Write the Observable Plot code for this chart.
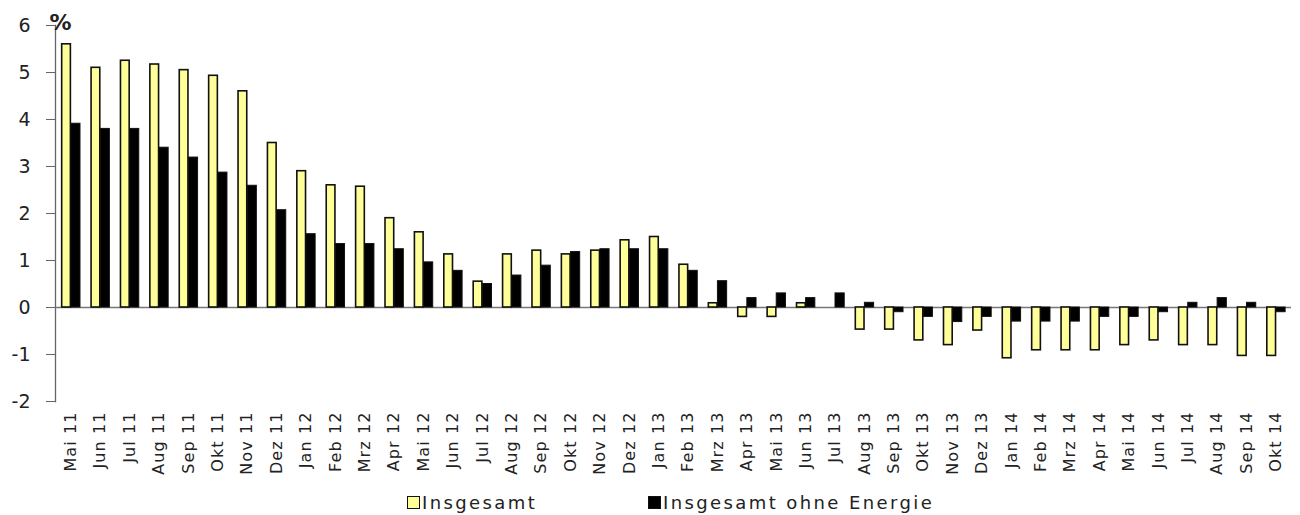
<!DOCTYPE html>
<html>
<head>
<meta charset="utf-8">
<script src="https://cdn.jsdelivr.net/npm/d3@7"></script>
<script src="https://cdn.jsdelivr.net/npm/@observablehq/plot@0.6"></script>
<style>
  html, body { margin: 0; padding: 0; background: #fff; }
  #chart { width: 1300px; }
  g[aria-label="x-axis tick label"] text { letter-spacing: 1.1px; }
  #legend { position: relative; width: 1300px; height: 30px; font-family: "DejaVu Sans", sans-serif; font-size: 18px; letter-spacing: 2.4px; color: #222; }
  .item { position: absolute; top: 7px; display: flex; align-items: center; height: 20px; }
  .sw { width: 11px; height: 11px; border: 1.6px solid #111; margin-right: 2px; }
</style>
</head>
<body>
<div id="chart"></div>
<div id="legend"></div>
<script>
const months = ["Mai 11","Jun 11","Jul 11","Aug 11","Sep 11","Okt 11","Nov 11","Dez 11",
  "Jan 12","Feb 12","Mrz 12","Apr 12","Mai 12","Jun 12","Jul 12","Aug 12","Sep 12","Okt 12","Nov 12","Dez 12",
  "Jan 13","Feb 13","Mrz 13","Apr 13","Mai 13","Jun 13","Jul 13","Aug 13","Sep 13","Okt 13","Nov 13","Dez 13",
  "Jan 14","Feb 14","Mrz 14","Apr 14","Mai 14","Jun 14","Jul 14","Aug 14","Sep 14","Okt 14"];

const insgesamt = [5.6,5.1,5.25,5.17,5.05,4.93,4.6,3.5,
  2.9,2.6,2.57,1.9,1.6,1.13,0.55,1.13,1.21,1.13,1.21,1.43,
  1.5,0.91,0.09,-0.2,-0.2,0.09,0,-0.47,-0.47,-0.7,-0.8,-0.49,
  -1.08,-0.91,-0.91,-0.91,-0.8,-0.7,-0.8,-0.8,-1.03,-1.03];

const ohneEnergie = [3.91,3.8,3.8,3.4,3.19,2.87,2.59,2.07,
  1.56,1.35,1.35,1.24,0.96,0.78,0.5,0.68,0.89,1.18,1.24,1.24,
  1.24,0.78,0.56,0.2,0.3,0.2,0.3,0.1,-0.1,-0.2,-0.31,-0.2,
  -0.3,-0.3,-0.3,-0.2,-0.2,-0.1,0.1,0.2,0.1,-0.1];

const seriesNames = ["Insgesamt", "Insgesamt ohne Energie"];
const seriesColors = ["#FFFF99", "#000000"];
const yTicks = [-2,-1,0,1,2,3,4,5,6];

const dataA = months.map((m, i) => ({month: m, value: insgesamt[i]})).filter(d => d.value !== 0);
const dataB = months.map((m, i) => ({month: m, value: ohneEnergie[i]})).filter(d => d.value !== 0);

const chart = Plot.plot({
  width: 1300,
  height: 485,
  marginLeft: 55,
  marginRight: 9,
  marginTop: 25,
  marginBottom: 84,
  style: {fontFamily: "DejaVu Sans, sans-serif", color: "#222", background: "#fff"},
  x: {domain: months, paddingInner: 0.35, paddingOuter: 0.2, round: false, label: null},
  y: {domain: [-2, 6], label: null},
  marks: [
    Plot.ruleY([0], {stroke: "#777", strokeWidth: 1.3}),
    Plot.barY(dataA, {x: "month", y: "value", fill: seriesColors[0], stroke: "#111", strokeWidth: 1.6, insetRight: 9.6, insetLeft: 0.8}),
    Plot.barY(dataB, {x: "month", y: "value", fill: seriesColors[1], stroke: "#111", strokeWidth: 1, insetLeft: 9.9}),
    Plot.frame({anchor: "left", stroke: "#666", strokeWidth: 1.3}),
    Plot.axisY({ticks: yTicks, tickSize: 9, tickPadding: 16, fontSize: 19, tickFormat: d => String(d), stroke: "#666", fill: "#222"}),
    Plot.axisX({tickSize: 0, tickPadding: 10, tickRotate: -90, fontSize: 16, fill: "#222"}),
    Plot.text(["%"], {frameAnchor: "top-left", dx: -6, dy: 4, textAnchor: "start", lineAnchor: "bottom", fontSize: 22, fontWeight: "bold", fill: "#222"})
  ]
});
document.getElementById("chart").appendChild(chart);

const legend = document.getElementById("legend");
const lefts = [407, 648];
seriesNames.forEach((name, i) => {
  const item = document.createElement("div");
  item.className = "item";
  item.style.left = lefts[i] + "px";
  const sw = document.createElement("span");
  sw.className = "sw";
  sw.style.background = seriesColors[i];
  const t = document.createElement("span");
  t.textContent = name;
  item.appendChild(sw);
  item.appendChild(t);
  legend.appendChild(item);
});
</script>
</body>
</html>
